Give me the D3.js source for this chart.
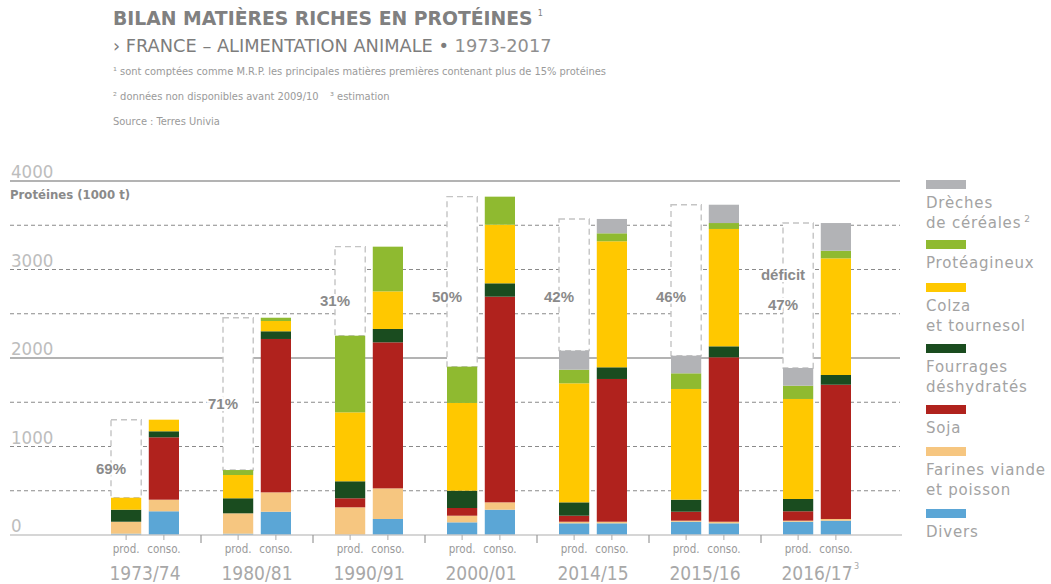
<!DOCTYPE html>
<html>
<head>
<meta charset="utf-8">
<script src="https://cdn.jsdelivr.net/npm/d3@7"></script>
<style>
  body { margin: 0; background: #fff; }
  svg { display: block; }
</style>
</head>
<body>
<div id="chart"></div>
<script>
const WIDTH = 1051
const HEIGHT = 584

// campaigns
const years = ['1973/74', '1980/81', '1990/91', '2000/01', '2014/15', '2015/16', '2016/17']
const yearSup = ['', '', '', '', '', '', '3']
const deficitLabels = ['69%', '71%', '31%', '50%', '42%', '46%', '47%']

// production (1000 t proteins), stacked bottom -> top
const diversProd    = [15, 15, 0, 143, 132, 150, 150]
const farinesProd   = [135, 230, 313, 75, 18, 12, 12]
const sojaProd      = [0, 0, 102, 87, 68, 101, 106]
const fourragesProd = [136, 170, 192, 196, 151, 136, 139]
const colzaProd     = [135, 263, 779, 991, 1345, 1251, 1130]
const proteagProd   = [0, 56, 866, 410, 154, 177, 150]
const drechesProd   = [0, 0, 0, 0, 215, 199, 200]

// consumption
const diversConso    = [268, 263, 181, 286, 132, 132, 162]
const farinesConso   = [131, 219, 346, 83, 18, 18, 19]
const sojaConso      = [705, 1733, 1650, 2324, 1613, 1858, 1517]
const fourragesConso = [68, 87, 151, 151, 132, 124, 110]
const colzaConso     = [131, 116, 425, 662, 1424, 1326, 1318]
const proteagConso   = [0, 37, 505, 317, 90, 67, 86]
const drechesConso   = [0, 0, 0, 0, 162, 207, 313]

const keys = ['divers', 'farines', 'soja', 'fourrages', 'colza', 'proteag', 'dreches']
const colors = ['#5ba6d6', '#f6c680', '#b0221d', '#1a4c1f', '#ffc800', '#8fba30', '#b2b3b6']
const legendLabels = [
    ['Divers'],
    ['Farines viande', 'et poisson'],
    ['Soja'],
    ['Fourrages', 'déshydratés'],
    ['Colza', 'et tournesol'],
    ['Protéagineux'],
    ['Drèches', 'de céréales']
]

const prodSeries = [diversProd, farinesProd, sojaProd, fourragesProd, colzaProd, proteagProd, drechesProd]
const consoSeries = [diversConso, farinesConso, sojaConso, fourragesConso, colzaConso, proteagConso, drechesConso]

const buildRows = (series, type) => years.map((y, i) => {
    let row = { year: y, type: type }
    keys.forEach((k, j) => row[k] = series[j][i])
    return row
})
const rows = buildRows(prodSeries, 'prod').concat(buildRows(consoSeries, 'conso'))

const FONT = "'Liberation Sans', Arial, sans-serif"
const NARROW = "'Liberation Sans Narrow', 'DejaVu Sans Condensed', sans-serif"
const WIDE = "'DejaVu Sans', sans-serif"

var svg = d3.select("#chart").append("svg")
    .attr("width", WIDTH)
    .attr("height", HEIGHT)

var xScale = d3.scaleBand()
    .domain(years)
    .range([89, 873])

var subScale = d3.scaleBand()
    .domain(['prod', 'conso'])
    .range([-34, 34])
    .paddingInner(0.2)

var yScale = d3.scaleLinear()
    .domain([0, 4000])
    .range([535, 181])

const center = y => xScale(y) + xScale.bandwidth() / 2

// grid
const gridVals = d3.range(500, 4001, 500)
svg.append("g").selectAll("line")
    .data(gridVals)
    .enter()
    .append("line")
        .attr("x1", 10)
        .attr("x2", 900)
        .attr("y1", d => yScale(d))
        .attr("y2", d => yScale(d))
        .attr("stroke", d => d % 2000 === 0 ? "#9a9a9a" : "#8a8a8a")
        .attr("stroke-width", d => d % 2000 === 0 ? 1.6 : 1)
        .attr("stroke-dasharray", d => d % 2000 === 0 ? null : "4,3")

svg.append("g").selectAll("text")
    .data(d3.range(0, 4001, 1000))
    .enter()
    .append("text")
        .attr("x", 11)
        .attr("y", d => yScale(d) - 3)
        .attr("font-family", NARROW)
        .attr("font-size", "18.5px")
        .attr("fill", "#bdbdbd")
        .text(d => d)

svg.append("text")
    .attr("x", 10)
    .attr("y", 199)
    .attr("font-family", NARROW)
    .attr("font-weight", "bold")
    .attr("font-size", "13px")
    .attr("fill", "#8a8a8a")
    .text("Protéines (1000 t)")

// deficit boxes
const stack = d3.stack().keys(keys)
const prodStack = stack(rows.filter(r => r.type === 'prod'))
const consoStack = stack(rows.filter(r => r.type === 'conso'))
const totals = (series, i) => d3.sum(keys, (k, j) => series[j][i])

const boxes = years.map((y, i) => ({
    year: y,
    prod: totals(prodSeries, i),
    conso: totals(consoSeries, i),
    label: deficitLabels[i]
}))

svg.append("g").selectAll("rect")
    .data(boxes)
    .enter()
    .append("rect")
        .attr("x", d => center(d.year) + subScale('prod'))
        .attr("width", subScale.bandwidth())
        .attr("y", d => yScale(d.conso))
        .attr("height", d => yScale(d.prod) - yScale(d.conso))
        .attr("fill", "#fff")
        .attr("stroke", "#c4c4c4")
        .attr("stroke-width", 1.4)
        .attr("stroke-dasharray", "6,4")

// bars
const drawStack = (stacked, type) => {
    svg.append("g").selectAll("g")
        .data(stacked)
        .enter()
        .append("g")
            .attr("fill", (d, i) => colors[i])
        .selectAll("rect")
        .data(d => d)
        .enter()
        .append("rect")
            .attr("x", d => center(d.data.year) + subScale(type))
            .attr("width", subScale.bandwidth())
            .attr("y", d => yScale(d[1]))
            .attr("height", d => yScale(d[0]) - yScale(d[1]))
}
drawStack(prodStack, 'prod')
drawStack(consoStack, 'conso')

// baseline + ticks
svg.append("line")
    .attr("x1", 10).attr("x2", 902)
    .attr("y1", yScale(0)).attr("y2", yScale(0))
    .attr("stroke", "#c8c8c8")
    .attr("stroke-width", 1.5)

svg.append("g").selectAll("line")
    .data(years.slice(1))
    .enter()
    .append("line")
        .attr("x1", d => xScale(d)).attr("x2", d => xScale(d))
        .attr("y1", yScale(0)).attr("y2", yScale(0) + 8)
        .attr("stroke", "#999")
        .attr("stroke-width", 1.2)

var sub = svg.append("g").selectAll("g")
    .data(years)
    .enter()
    .append("g")
        .attr("transform", d => `translate(${center(d)},0)`)

sub.selectAll("line")
    .data(['prod', 'conso'])
    .enter()
    .append("line")
        .attr("x1", d => subScale(d) + subScale.bandwidth() / 2)
        .attr("x2", d => subScale(d) + subScale.bandwidth() / 2)
        .attr("y1", yScale(0)).attr("y2", yScale(0) + 5)
        .attr("stroke", "#aaa")

sub.selectAll("text.sub")
    .data(['prod', 'conso'])
    .enter()
    .append("text")
        .attr("class", "sub")
        .attr("x", d => subScale(d) + subScale.bandwidth() / 2)
        .attr("y", 553)
        .attr("text-anchor", "middle")
        .attr("font-family", NARROW)
        .attr("font-size", "11.5px")
        .attr("fill", "#9a9a9a")
        .text(d => d + ".")

sub.append("text")
    .attr("y", 580)
    .attr("text-anchor", "middle")
    .attr("font-family", NARROW)
    .attr("font-size", "19px")
    .attr("fill", "#a8a8a8")
    .text(d => d)

sub.filter((d, i) => yearSup[i])
    .append("text")
    .attr("x", 37)
    .attr("y", 569)
    .attr("font-family", NARROW)
    .attr("font-size", "9px")
    .attr("fill", "#a8a8a8")
    .text((d) => yearSup[years.indexOf(d)])

// deficit labels
const LABEL_CAP = 2700
var pct = svg.append("g").selectAll("text")
    .data(boxes)
    .enter()
    .append("text")
        .attr("x", d => center(d.year) + subScale('prod'))
        .attr("y", d => yScale(Math.min((d.prod + d.conso) / 2 - 100, LABEL_CAP)) + 6)
        .attr("text-anchor", "middle")
        .attr("font-family", FONT)
        .attr("font-weight", "bold")
        .attr("font-size", "15px")
        .attr("fill", "#8a8a8a")
        .attr("stroke", "#fff")
        .attr("stroke-width", 4)
        .attr("paint-order", "stroke")
        .text(d => d.label)

var last = boxes[boxes.length - 1]
svg.append("text")
    .attr("x", center(last.year) + subScale('prod'))
    .attr("y", yScale(LABEL_CAP) - 16)
    .attr("text-anchor", "middle")
    .attr("font-family", FONT)
    .attr("font-weight", "bold")
    .attr("font-size", "15px")
    .attr("fill", "#8a8a8a")
    .attr("stroke", "#fff")
    .attr("stroke-width", 4)
    .attr("paint-order", "stroke")
    .text("déficit")

// legend (top -> bottom)
const legendY = [180, 240, 283, 344, 405, 447, 509]
var legendItems = svg.append("g").selectAll("g")
    .data(keys.slice().reverse())
    .enter()
    .append("g")
        .attr("transform", (d, i) => `translate(926,${legendY[i]})`)

legendItems.append("rect")
    .attr("width", 40)
    .attr("height", 9)
    .attr("fill", d => colors[keys.indexOf(d)])

legendItems.each(function(d) {
    let lines = legendLabels[keys.indexOf(d)]
    let t = d3.select(this).append("text")
        .attr("font-family", WIDE)
        .attr("font-size", "15px")
        .attr("letter-spacing", "0.8px")
        .attr("fill", "#a3a3a3")
    lines.forEach((l, i) => {
        t.append("tspan")
            .attr("x", 0)
            .attr("y", 28 + i * 19.5)
            .text(l)
    })
    if (d === 'dreches') {
        t.append("tspan")
            .attr("dx", 3)
            .attr("dy", -6)
            .attr("font-size", "9px")
            .text("2")
    }
})

// titles
svg.append("text")
    .attr("x", 113).attr("y", 25)
    .attr("font-family", WIDE)
    .attr("font-weight", "bold")
    .attr("font-size", "18.8px")
    .attr("fill", "#808080")
    .text("BILAN MATIÈRES RICHES EN PROTÉINES")
  .append("tspan")
    .attr("dx", 5).attr("dy", -9)
    .attr("font-size", "8px")
    .attr("font-weight", "normal")
    .text("1")

var subtitle = svg.append("text")
    .attr("x", 113).attr("y", 52)
    .attr("font-family", WIDE)
    .attr("font-size", "17.8px")
    .attr("fill", "#7d7d7d")
subtitle.append("tspan").text("› FRANCE – ALIMENTATION ANIMALE • ")
subtitle.append("tspan").attr("fill", "#8f8f8f").text("1973-2017")

const notes = [
    [113, 75, "¹ sont comptées comme M.R.P. les principales matières premières contenant plus de 15% protéines"],
    [113, 100, "² données non disponibles avant 2009/10"],
    [330, 100, "³ estimation"],
    [113, 125, "Source : Terres Univia"]
]
svg.append("g").selectAll("text")
    .data(notes)
    .enter()
    .append("text")
        .attr("x", d => d[0])
        .attr("y", d => d[1])
        .attr("font-family", NARROW)
        .attr("font-size", "11px")
        .attr("fill", "#9a9a9a")
        .text(d => d[2])
</script>
</body>
</html>
